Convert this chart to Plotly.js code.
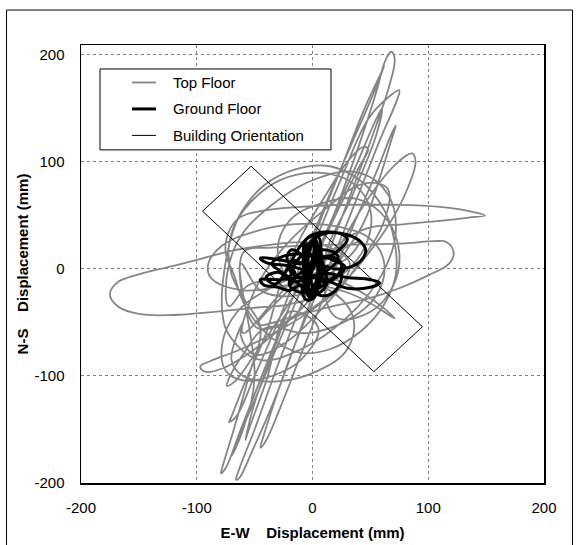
<!DOCTYPE html>
<html>
<head>
<meta charset="utf-8">
<script src="https://cdn.plot.ly/plotly-3.0.1.min.js"></script>
<style>html,body{margin:0;padding:0;background:#fff;}#chart{width:579px;height:545px;}</style>
</head>
<body>
<div id="chart"></div>
<script>
// ---- Data (mm) ----
var topFloorX = [
  0,20,40,55,63,68,71,66,52,33,12,-10,-32,-52,-63,-66,-63,-50,-30,-12,
  5,25,47,80,110,135,149,140,110,70,30,-10,-45,-63,-73,-75,-68,
  -58,-38,-12,15,42,62,72,71,62,42,15,-15,-42,-62,-72,-70,-58,
  -45,-55,-68,-77,-79,-75,-62,-42,-20,2,25,48,65,75,73,58,38,15,0,
  -20,-48,-85,-120,-150,-168,-175,-169,-150,-120,-95,-70,-40,-10,15,32,
  25,0,-30,-62,-88,-97,-93,-78,-50,-22,5,28,45,
  58,68,72,69,55,35,12,-10,-28,-40,-45,-42,-30,
  -15,5,28,52,72,86,89,82,68,45,18,-15,-48,
  -60,-35,0,40,80,105,116,122,118,100,75,47,17,-15,-47,
  -30,0,25,47,62,71,66,50,30,5,
  -20,-60,-88,-90,-78,-50,-15,20,50,62,55,30,-5,-40,
  -60,-72,-74,-68,-50,-25,0,22,40,48,44,30,12,-10,-25,
  -40,-58,-70,-72,-66,-50,-30,-8,15,35,55,62,60,45,25,5,-15,-35,-50,-58,-55,-40,
  -20,5,-10,-35,-60,-75,-78,-65,-40,-10,20,
  -10,-60,-50,-25,10,45,65,62,40,10,-25,-50,-62,
  -60,-70,-60,-30,5,30,35,15,-20,-55,-72,
  -75,-65,-35,5,40,65,72,60,30,-10,-45,-70,-78,
  -69,-57,-28,5,35,50,45,20,-15,-45,-62,
  -50,-60,-70,-68,-45,-20,10,35,55,60,55,35,10,
  20,50,70,75,65,40,10,-20,-30,-15,
  0,30,40,20,0
];
var topFloorY = [
  0,55,115,165,195,203,196,170,125,70,10,-55,-120,-170,-195,-197,-186,-150,-90,-40,
  0,25,38,42,45,48,50,53,58,60,60,58,54,48,33,15,-5,
  -35,-62,-78,-75,-58,-33,-5,25,55,82,96,93,78,52,24,-5,-30,
  -55,-100,-150,-182,-191,-186,-150,-95,-35,25,85,140,160,167,158,120,65,5,-25,
  -33,-36,-40,-43,-42,-35,-24,-13,-5,3,10,17,22,25,20,6,
  -15,-38,-58,-75,-86,-91,-96,-93,-75,-50,-20,15,45,
  85,120,134,128,90,40,-20,-80,-130,-160,-167,-155,-115,
  -70,-20,30,72,98,108,100,75,45,10,-22,-45,-55,
  15,20,22,23,24,26,25,15,5,-6,-18,-28,-35,-44,-52,
  -30,-5,-12,-25,-37,-46,-43,-32,-22,-15,
  -15,-20,-8,5,22,35,42,40,28,5,-25,-48,-60,-55,
  -80,-102,-109,-106,-80,-40,5,55,95,112,114,100,70,30,-5,
  -60,-105,-138,-143,-138,-100,-50,10,70,120,170,190,185,150,95,40,-20,-80,-125,-160,-150,-105,
  -40,-55,-85,-100,-104,-95,-70,-40,-20,-5,5,
  -5,-60,-20,20,55,80,75,45,5,-35,-70,-80,-62,
  -50,-85,-100,-105,-95,-75,-45,-20,-10,-15,-35,
  -20,25,60,85,90,70,35,-5,-45,-75,-85,-65,-40,
  34,58,83,90,80,55,20,-10,-25,-20,5,
  -100,-150,-175,-168,-110,-45,30,90,140,150,125,70,5,
  -45,-40,-15,15,45,65,62,45,15,-15,
  -5,10,25,15,0
];

var groundFloorX = [
  0,2,0,-3,-5,-3,0,3,5,2,-4,-8,-6,-2,4,8,6,0,-6,-10,-25,-45,-40,-20,-5,
  -5,10,30,42,46,42,33,20,10,
  5,-2,-6,-3,2,6,3,-2,
  10,30,50,58,50,30,15,0,
  -10,-30,-45,-42,-30,-20,-10,
  -8,-5,2,5,3,-1,-4,-2,1,4,7,4,0,
  -12,-20,-15,-5,5,15,25,20,10,
  -4,-7,-3,2,6,2,-3,-1,3,0,
  -15,-20,-12,5,18,22,10,-5,-18,-22,-15,-20,-10,5,15,25,20,8,-5,-8,
  -5,5,8,12,0,-14,-28,-35,-25,-10,10,25,30,20,0,-10,
  -32,-40,-30,-15,0,16,28,18,5,-3,3,-2,0
];
var groundFloorY = [
  0,20,27,15,-5,-25,-28,-15,10,25,22,0,-20,-27,-20,0,18,25,10,5,8,10,6,3,0,
  20,33,32,25,17,8,2,0,2,
  -10,-22,-5,15,28,12,-12,-26,
  -5,-8,-10,-13,-17,-18,-12,-8,
  -8,-10,-10,-15,-17,-20,-15,
  -25,-29,-26,-10,12,26,18,-5,-20,-12,8,22,5,
  -5,-15,5,15,10,12,5,-8,-12,
  -2,14,24,20,-4,-22,-18,5,22,0,
  8,0,-8,-5,3,12,18,12,18,10,-5,-15,-22,-18,-10,-5,-20,-25,-15,5,
  28,30,10,-15,-24,-12,-2,5,12,14,10,20,28,34,32,22,
  -14,-8,-3,-12,-6,-10,2,8,12,-6,-20,-10,0
];

// Building orientation outline (rectangle corners, mm)
var orientX = [-95, -53, 95, 53, -95];
var orientY = [54, 96, -54, -96, 54];

var seriesNames = ['Top Floor', 'Ground Floor', 'Building Orientation'];
var xTicks = [-200, -100, 0, 100, 200];
var yTicks = [-200, -100, 0, 100, 200];
var xTitle = 'E-W\u00a0\u00a0\u00a0\u00a0Displacement (mm)';
var yTitle = 'N-S\u00a0\u00a0\u00a0\u00a0Displacement (mm)';

// ---- Styles ----
var FONT = 'Liberation Sans, Arial, sans-serif';
var GRAY = '#858585';

var traces = [
  {x: topFloorX, y: topFloorY, name: seriesNames[0], mode: 'lines',
   line: {color: GRAY, width: 1.8, shape: 'spline', smoothing: 1.1}, hoverinfo: 'skip'},
  {x: orientX, y: orientY, name: seriesNames[2], mode: 'lines',
   line: {color: '#000', width: 1}, hoverinfo: 'skip'},
  {x: groundFloorX, y: groundFloorY, name: seriesNames[1], mode: 'lines',
   line: {color: '#000', width: 3, shape: 'spline', smoothing: 1.1}, hoverinfo: 'skip'}
];

// plot area in pixels: left 81, right 544, top 44.5, bottom 483
var PL = 81, PR = 544, PT = 44.5, PB = 483;
function px(x){ return (x - PL) / (PR - PL); }
function py(y){ return (PB - y) / (PB - PT); }

var legendRows = [82, 108.5, 135];
var legendStyles = [
  {color: GRAY, width: 1.8},
  {color: '#000', width: 3},
  {color: '#000', width: 1}
];
var shapes = [
  {type: 'rect', xref: 'paper', yref: 'paper', x0: px(6.5), x1: px(572.5), y0: py(600), y1: py(9.5),
   line: {color: '#000', width: 1}, layer: 'above'},
  {type: 'rect', xref: 'paper', yref: 'paper', x0: px(100), x1: px(331), y0: py(149.5), y1: py(68.5),
   line: {color: '#000', width: 1}, fillcolor: '#fff', layer: 'above'}
];
var annotations = [];
for (var i = 0; i < 3; i++) {
  shapes.push({type: 'line', xref: 'paper', yref: 'paper', x0: px(132), x1: px(156),
    y0: py(legendRows[i]), y1: py(legendRows[i]), line: legendStyles[i], layer: 'above'});
  annotations.push({xref: 'paper', yref: 'paper', x: px(171), y: py(legendRows[i]),
    xanchor: 'left', yanchor: 'middle', showarrow: false, text: seriesNames[i],
    font: {family: FONT, size: 15, color: '#000'}});
}

var layout = {
  width: 579, height: 545,
  margin: {l: PL, r: 579 - PR, t: PT, b: 545 - PB, pad: 0},
  paper_bgcolor: '#fff', plot_bgcolor: '#fff',
  showlegend: false,
  font: {family: FONT, size: 15, color: '#000'},
  xaxis: {
    range: [-200, 200], tickvals: xTicks, ticktext: xTicks.map(String),
    showgrid: true, gridcolor: '#808080', gridwidth: 1, griddash: 'dot',
    zeroline: false, showline: true, mirror: true, linecolor: '#000', linewidth: 1.5,
    ticks: 'outside', ticklen: 10, tickcolor: 'rgba(0,0,0,0)',
    tickfont: {family: FONT, size: 15, color: '#000'},
    title: {text: xTitle, font: {family: FONT, size: 15, color: '#000', weight: 'bold'}, standoff: 13},
    automargin: false, fixedrange: true
  },
  yaxis: {
    range: [-200, 209.3], tickvals: yTicks, ticktext: yTicks.map(String),
    showgrid: true, gridcolor: '#808080', gridwidth: 1, griddash: 'dot',
    zeroline: false, showline: true, mirror: true, linecolor: '#000', linewidth: 1.5,
    ticks: 'outside', ticklen: 12, tickcolor: 'rgba(0,0,0,0)',
    tickfont: {family: FONT, size: 15, color: '#000'},
    title: {text: yTitle, font: {family: FONT, size: 15, color: '#000', weight: 'bold'}, standoff: 2},
    automargin: false, fixedrange: true
  },
  shapes: shapes,
  annotations: annotations
};

Plotly.newPlot('chart', traces, layout, {staticPlot: true, displayModeBar: false});
</script>
</body>
</html>
